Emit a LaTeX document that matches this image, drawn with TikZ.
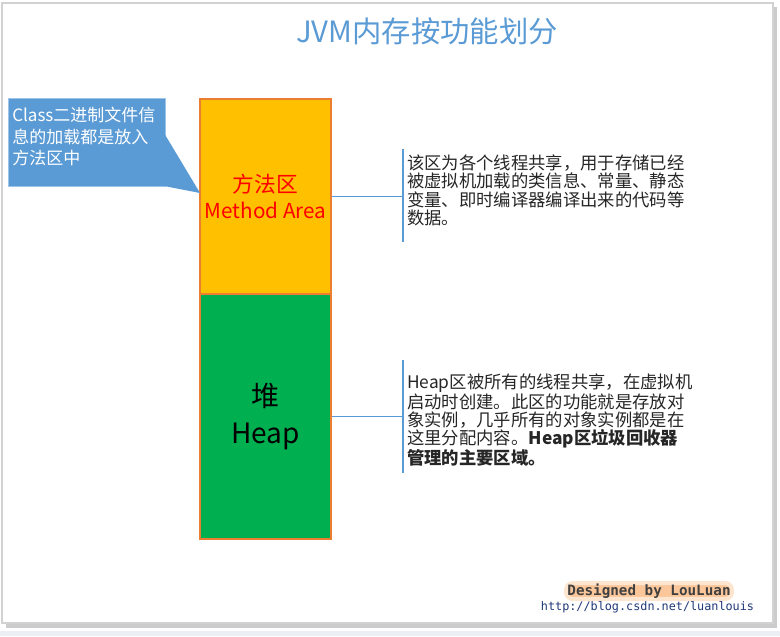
\documentclass[tikz,border=0pt]{standalone}
\usepackage{fontspec}
\setmainfont{Noto Sans CJK SC}
\newfontfamily\monofont{DejaVu Sans Mono}
\usetikzlibrary{calc}
\definecolor{fGold}{RGB}{255,192,0}
\definecolor{fHeap}{RGB}{0,176,80}
\definecolor{dOrange}{RGB}{237,125,49}
\definecolor{lBlue}{RGB}{91,155,213}
\definecolor{tGray}{RGB}{38,38,38}
\definecolor{uBlue}{RGB}{31,56,120}
\definecolor{gOrange}{RGB}{250,180,120}
\definecolor{bgStrip}{RGB}{238,239,245}
\begin{document}
\begin{tikzpicture}[x=0.75pt,y=-0.75pt,
  area/.style={draw=dOrange,line width=0.9pt,minimum width=98.25pt,inner sep=0pt,align=center},
  desc/.style={anchor=west,inner sep=0pt,align=left,text=tGray,font=\fontsize{13}{13.75}\selectfont},
  ln/.style={draw=lBlue,line width=0.8pt},
  credit/.style={font=\monofont\bfseries\fontsize{10.7}{12}\selectfont}]
% page and frame
\useasboundingbox (0,0) rectangle (780,636);
\fill[white] (0,0) rectangle (780,636);
\fill[bgStrip] (0,631) rectangle (780,636);
\fill[gray!40] (6,7) rectangle (777,628);
\filldraw[fill=white,draw=gray!35,line width=0.8pt] (2,3) rectangle (773,623);
% title
\node[text=lBlue,font=\fontsize{22}{26}\selectfont] (title) at (427,31) {JVM内存按功能划分};
% memory areas
\node[area,fill=fGold,minimum height=146.25pt,text=red,font=\fontsize{15.5}{20}\selectfont] (ma) at (265.5,196.5) {{\fontsize{16.3}{20}\selectfont 方法区}\\Method Area};
\node[area,fill=fHeap,minimum height=183.75pt,font=\fontsize{21}{28}\selectfont] (heap) at (265.5,416.5) {堆\\Heap};
% callout
\node[fill=lBlue,draw=lBlue!60!white,minimum width=117.75pt,minimum height=66pt] (note) at (86.5,142) {};
\coordinate (wa) at (164,133);
\coordinate (wb) at (164,186);
\coordinate (tip) at (200,193);
\fill[lBlue] (wa) -- (tip) -- (wb) -- cycle;
\node[anchor=north west,inner sep=0pt,align=left,text=white,font=\fontsize{12.75}{16}\selectfont] (notetxt) at (12,107) {Class二进制文件信\\息的加载都是放入\\方法区中};
% descriptions
\node[desc] (d1) at (407,190.5) {该区为各个线程共享，用于存储已经\\被虚拟机加载的类信息、常量、静态\\变量、即时编译器编译出来的代码等\\数据。};
\coordinate (b1t) at (403,149);
\coordinate (b1b) at (403,242);
\draw[ln] (b1t) -- (b1b);
\draw[ln] (ma.east) -- (ma.east -| b1t);
\node[desc] (d2) at (407,420) {Heap区被所有的线程共享，在虚拟机\\启动时创建。此区的功能就是存放对\\象实例，几乎所有的对象实例都是在\\这里分配内容。\textbf{Heap区垃圾回收器}\\\textbf{管理的主要区域。}};
\coordinate (b2t) at (403,360);
\coordinate (b2b) at (403,473);
\draw[ln] (b2t) -- (b2b);
\draw[ln] (heap.east) -- (heap.east -| b2t);
% footer
\node[credit,text=black!75,fill=gOrange!75,draw=gOrange!35,line width=3pt,rounded corners=5pt,inner xsep=1pt,inner ysep=0.5pt] (credit) at (649,591) {Designed by LouLuan};
\node[font=\monofont\fontsize{8.85}{10}\selectfont,text=uBlue] (url) at (647.5,607) {http://blog.csdn.net/luanlouis};
\end{tikzpicture}
\end{document}
